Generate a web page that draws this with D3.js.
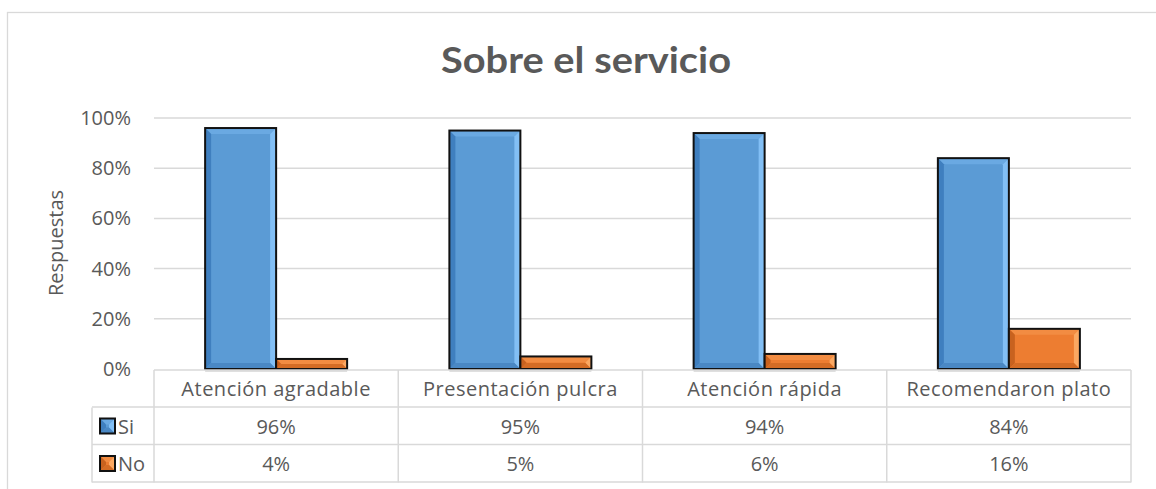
<!DOCTYPE html>
<html>
<head>
<meta charset="utf-8">
<script src="https://cdn.jsdelivr.net/npm/d3@7"></script>
<style>
  body { margin: 0; background: #fff; }
  text { font-family: "Open Sans", sans-serif; fill: #595959; }
</style>
</head>
<body>
<div id="chart"></div>
<script>
// data
var categories = ["Atención agradable", "Presentación pulcra", "Atención rápida", "Recomendaron plato"]
var seriesNames = ["Si", "No"]
var siValues = [96, 95, 94, 84]
var noValues = [4, 5, 6, 16]
var yTicks = [0, 20, 40, 60, 80, 100]

var WIDTH = 1156, HEIGHT = 489
var PLOT = {LEFT: 154, RIGHT: 1131, TOP: 118, BOTTOM: 369}
var ROW_H = 37.5
var FONT = "20px"

var palette = {
  Si: {body: "#5b9bd5", light: "#82bff5", dark: "#3f7fbf", top: "#6aa9e2", bottom: "#4a88c4"},
  No: {body: "#ed7d31", light: "#fba862", dark: "#c8621f", top: "#f28c42", bottom: "#d46c25"}
}

var svg = d3.select("#chart").append("svg")
  .attr("width", WIDTH)
  .attr("height", HEIGHT)

// outer chart frame
svg.append("rect")
  .attr("x", 7.5).attr("y", 12.5)
  .attr("width", 1160).attr("height", 500)
  .attr("fill", "none")
  .attr("stroke", "#d9d9d9")
  .attr("stroke-width", 1.3)

svg.append("text")
  .attr("x", 586).attr("y", 73)
  .attr("text-anchor", "middle")
  .attr("textLength", 290)
  .attr("lengthAdjust", "spacingAndGlyphs")
  .style("font-family", "Lato, sans-serif")
  .style("font-size", "37px")
  .style("font-weight", "bold")
  .text("Sobre el servicio")

var x = d3.scaleBand()
  .domain(categories)
  .range([PLOT.LEFT, PLOT.RIGHT])

var y = d3.scaleLinear()
  .domain([0, 100])
  .range([PLOT.BOTTOM, PLOT.TOP])

// gridlines
svg.append("g")
  .selectAll("line")
  .data(yTicks.slice(1))
  .enter().append("line")
  .attr("x1", PLOT.LEFT).attr("x2", PLOT.RIGHT)
  .attr("y1", function(d){ return y(d) }).attr("y2", function(d){ return y(d) })
  .attr("stroke", "#d9d9d9")
  .attr("stroke-width", 1.5)

var yAxis = d3.axisLeft(y)
  .tickValues(yTicks)
  .tickSize(0)
  .tickPadding(0)
  .tickFormat(function(d){ return d + "%" })

var gy = svg.append("g")
  .attr("transform", "translate(131,0)")
  .call(yAxis)
gy.select(".domain").remove()
gy.selectAll("text")
  .style("font-size", FONT)
  .style("font-family", "'Open Sans', sans-serif")
  .attr("fill", "#595959")

svg.append("text")
  .attr("transform", "translate(63,243) rotate(-90)")
  .attr("text-anchor", "middle")
  .style("font-size", FONT)
  .text("Respuestas")

// bevelled bar, drawn like the office 3D bevel
function bevelBar(g, x0, y0, w, h, col) {
  var b = Math.min(6, w / 2, h / 2)
  var x1 = x0 + w, y1 = y0 + h
  g.append("rect").attr("x", x0).attr("y", y0).attr("width", w).attr("height", h).attr("fill", col.body)
  g.append("polygon").attr("points", [[x0,y0],[x1,y0],[x1-b,y0+b],[x0+b,y0+b]].join(" ")).attr("fill", col.top)
  g.append("polygon").attr("points", [[x1,y0],[x1,y1],[x1-b,y1-b],[x1-b,y0+b]].join(" ")).attr("fill", col.light)
  g.append("polygon").attr("points", [[x0,y0],[x0+b,y0+b],[x0+b,y1-b],[x0,y1]].join(" ")).attr("fill", col.dark)
  g.append("polygon").attr("points", [[x0,y1],[x0+b,y1-b],[x1-b,y1-b],[x1,y1]].join(" ")).attr("fill", col.bottom)
  g.append("rect").attr("x", x0).attr("y", y0).attr("width", w).attr("height", h)
    .attr("fill", "none").attr("stroke", "#111").attr("stroke-width", 2)
}

var barW = 71
var bars = svg.append("g")
categories.forEach(function(c, i){
  var cx = x(c) + x.bandwidth() / 2
  var vals = [siValues[i], noValues[i]]
  vals.forEach(function(v, j){
    var x0 = cx - barW + j * barW
    bevelBar(bars.append("g"), x0, y(v), barW, y(0) - y(v), palette[seriesNames[j]])
  })
  // faint shadow under the pair
  bars.append("line")
    .attr("x1", cx - barW).attr("x2", cx + barW)
    .attr("y1", y(0) + 2).attr("y2", y(0) + 2)
    .attr("stroke", "#bfbfbf").attr("stroke-width", 1)
})

// data table under the plot
var table = svg.append("g")
var tTop = PLOT.BOTTOM + 1
var gridCol = "#d9d9d9"

// horizontal lines
table.append("line").attr("x1", PLOT.LEFT).attr("x2", PLOT.RIGHT).attr("y1", tTop).attr("y2", tTop)
  .attr("stroke", gridCol).attr("stroke-width", 1.5)
;[1, 2, 3].forEach(function(r){
  table.append("line").attr("x1", 92).attr("x2", PLOT.RIGHT)
    .attr("y1", tTop + r * ROW_H - 0.5).attr("y2", tTop + r * ROW_H - 0.5)
    .attr("stroke", gridCol).attr("stroke-width", 1.5)
})
// vertical lines
x.domain().concat(["end"]).forEach(function(c, i){
  var xx = PLOT.LEFT + i * x.bandwidth()
  table.append("line").attr("x1", xx).attr("x2", xx).attr("y1", tTop).attr("y2", tTop + 3 * ROW_H)
    .attr("stroke", gridCol).attr("stroke-width", 1.5)
})
table.append("line").attr("x1", 92).attr("x2", 92).attr("y1", tTop + ROW_H).attr("y2", tTop + 3 * ROW_H)
  .attr("stroke", gridCol).attr("stroke-width", 1.5)

categories.forEach(function(c){
  table.append("text")
    .attr("x", x(c) + x.bandwidth() / 2)
    .attr("y", tTop + 26)
    .attr("text-anchor", "middle")
    .style("font-size", FONT)
    .style("letter-spacing", "0.5px")
    .text(c)
})

var rows = [siValues, noValues]
rows.forEach(function(vals, r){
  var ry = tTop + (r + 1) * ROW_H
  bevelBar(table.append("g"), 100, ry + 11, 15, 15, palette[seriesNames[r]])
  table.append("text")
    .attr("x", 118).attr("y", ry + 26)
    .style("font-size", FONT)
    .text(seriesNames[r])
  vals.forEach(function(v, i){
    table.append("text")
      .attr("x", x(categories[i]) + x.bandwidth() / 2)
      .attr("y", ry + 26)
      .attr("text-anchor", "middle")
      .style("font-size", FONT)
      .text(v + "%")
  })
})
</script>
</body>
</html>
